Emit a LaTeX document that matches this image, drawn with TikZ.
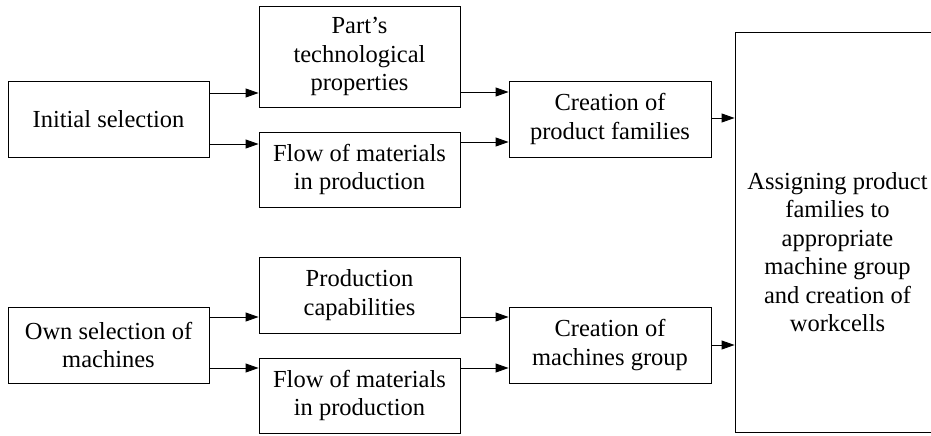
\documentclass[tikz,border=0pt]{standalone}
\usepackage{fontspec}
\setmainfont{Liberation Serif}
\usetikzlibrary{arrows.meta}
\begin{document}
\begin{tikzpicture}[x=1pt,y=-1pt,
  box/.style={draw,line width=0.9pt,align=center,inner sep=0pt,
    font=\fontsize{24.5}{28.5}\selectfont,minimum width=201pt},
  arr/.style={line width=0.9pt,-{Triangle[length=13pt,width=9pt]}}]
\clip (0,0) rectangle (931,436);
\useasboundingbox (0,0) rectangle (931,436);

% first-stage boxes
\node[box,minimum height=76pt] (init) at (108.5,119) {Initial selection};
\node[box,minimum height=76pt] (own) at (108.5,345) {Own selection of\\machines};

% second-stage boxes
\node[box,minimum height=101pt] (parts) at (359.5,56.5) {Part’s\\technological\\properties};
\node[box,minimum height=75pt] (flowA) at (359.5,169.5) {Flow of materials\\in production};
\node[box,minimum height=76pt] (prod) at (359.5,295) {Production\\capabilities};
\node[box,minimum height=75pt] (flowB) at (359.5,395.5) {Flow of materials\\in production};

% grouping boxes
\node[box,minimum width=202pt,minimum height=76pt] (fam) at (610,119) {Creation of\\product families};
\node[box,minimum width=202pt,minimum height=76pt] (grp) at (610,345) {Creation of\\machines group};

% final box, running off the right edge
\node[draw,line width=0.9pt,minimum width=205pt,minimum height=400pt] (final) at (837.5,232) {};
\node[align=center,font=\fontsize{24.5}{28.5}\selectfont] (finaltext) at (837.5,252)
  {Assigning product\\families to\\appropriate\\machine group\\and creation of\\workcells};

% connectors
\draw[arr] (init.east |- 0,93) -- (parts.west |- 0,93);
\draw[arr] (init.east |- 0,144) -- (flowA.west |- 0,144);
\draw[arr] (parts.east |- 0,92) -- (fam.west |- 0,92);
\draw[arr] (flowA.east |- 0,142) -- (fam.west |- 0,142);
\draw[arr] (fam.east |- 0,118) -- (final.west |- 0,118);

\draw[arr] (own.east |- 0,317) -- (prod.west |- 0,317);
\draw[arr] (own.east |- 0,368) -- (flowB.west |- 0,368);
\draw[arr] (prod.east |- 0,317) -- (grp.west |- 0,317);
\draw[arr] (flowB.east |- 0,368) -- (grp.west |- 0,368);
\draw[arr] (grp.east |- 0,345) -- (final.west |- 0,345);
\end{tikzpicture}
\end{document}
